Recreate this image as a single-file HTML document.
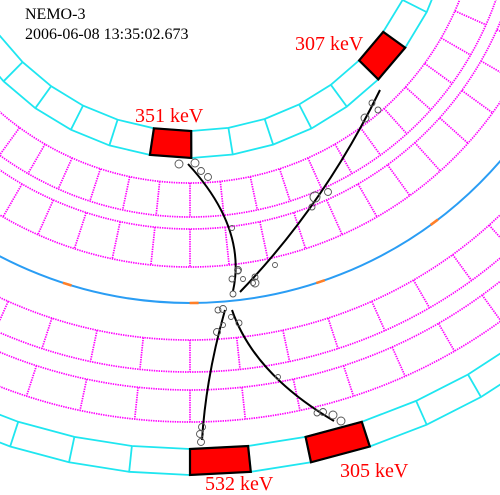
<!DOCTYPE html>
<html><head><meta charset="utf-8"><style>
html,body{margin:0;padding:0;background:#fff;width:500px;height:495px;overflow:hidden}
svg{display:block}
text{font-family:"Liberation Serif",serif}
</style></head><body>
<svg id="disp" width="500" height="495" viewBox="0 0 500 495" xmlns="http://www.w3.org/2000/svg">
<g id="geom"></g>
<g id="hits"></g>
<g id="tracks"></g>
<g id="cells"></g>
<text x="25" y="19" font-size="16" fill="#000">NEMO-3</text>
<text x="25" y="39" font-size="16" fill="#000">2006-06-08 13:35:02.673</text>
</svg>
<script>
// detector geometry (centre of curvature and radii)
const center = [190, -107];
const innerCaloR = [238, 265];
const trackerLayersR = [[290, 324], [336, 374], [447, 479], [497, 529]];
const foilR = [410];
const outerCaloR = [556, 582];
// calorimeter hits: wall, block index, energy label
const hitWall = ["inner", "inner", "outer", "outer"];
const hitIndex = [-1, 5, 0, 2];
const hitEnergy = [351, 307, 532, 305];
const labelPos = [[135, 122], [295, 50], [205, 490], [340, 477]];
// tracks: start, control, end
const trackStart = [[188, 164], [240, 292], [225, 310], [232, 310]];
const trackCtrl = [[247, 228], [324, 205], [206, 377], [254, 374]];
const trackEnd = [[233, 291], [380, 90], [202, 440], [334, 421]];
// geiger cell hits
const cellX = [179,195,201,208,232,238,232,233,255,253,372,378,365,315,328,312,275,255,223,231,239,217,223,278,323,333,341,317,202,200,201,238,243,218];
const cellY = [164,163,171,177,228,270,279,294,277,283,103,110,118,197,192,207,265,283,309,317,323,332,325,377,412,415,421,413,427,434,442,271,279,310];
const cellR = [4,4,3.5,3.5,2.5,3.5,3,3,3,2.5,3,3,4,5,3.5,3,2.5,4,3.5,2.5,3,3.5,2.5,2.5,3.5,4,4,3,3.5,3.5,3.5,3,2.5,3];

const NS = "http://www.w3.org/2000/svg";
const cx = center[0], cy = center[1];
function pt(r, a){ return [cx + r*Math.sin(a), cy + r*Math.cos(a)]; }
function mk(tag, attrs, parent){ const e = document.createElementNS(NS, tag); for (const k in attrs) e.setAttribute(k, attrs[k]); parent.appendChild(e); return e; }
const geom = document.getElementById('geom');
const IN_STEP = Math.PI/20, IN_PH = 0.005, OUT_STEP = Math.PI/30, TR_STEP = Math.PI/30;
const CYAN = "#1fe6f0";
const MAG = {stroke:'#ff00ff', 'stroke-width':1.7, 'stroke-dasharray':'1.4 1'};

// tracker layers (dotted magenta)
trackerLayersR.forEach((L, li) => {
  for (const r of L) {
    const c = mk('circle', Object.assign({cx, cy, r, fill:'none'}, MAG), geom);
    
    
  }
  for (let k = -20; k <= 20; k++) {
    const a = k*TR_STEP;
    const p1 = pt(L[0], a), p2 = pt(L[1], a);
    const l = mk('line', Object.assign({x1:p1[0], y1:p1[1], x2:p2[0], y2:p2[1]}, MAG), geom);
    
    
  }
});

// foil
const foil = mk('circle', {cx, cy, r:foilR[0], fill:'none', stroke:'#2a9df4', 'stroke-width':2}, geom);


for (let k = -6; k <= 6; k++) {
  const a = 0.01 + k*Math.PI/10, da = 0.011;
  const p1 = pt(foilR[0], a-da), p2 = pt(foilR[0], a+da);
  const m = mk('line', {x1:p1[0], y1:p1[1], x2:p2[0], y2:p2[1], stroke:'#ff7f27', 'stroke-width':2.6}, geom);
  
  
}

// calorimeter walls (polygonal)
function wall(R, step, ph, kmin, kmax, name){
  for (const r of R) {
    let d = '';
    for (let k = kmin; k <= kmax; k++) { const p = pt(r, ph + k*step); d += (d ? 'L' : 'M') + p[0].toFixed(1) + ',' + p[1].toFixed(1); }
    const e = mk('path', {d, fill:'none', stroke:CYAN, 'stroke-width':1.8}, geom);
    
    
  }
  for (let k = kmin; k <= kmax; k++) {
    const p1 = pt(R[0], ph + k*step), p2 = pt(R[1], ph + k*step);
    const e = mk('line', {x1:p1[0], y1:p1[1], x2:p2[0], y2:p2[1], stroke:CYAN, 'stroke-width':1.8}, geom);
    
    
  }
}
wall(innerCaloR, IN_STEP, IN_PH, -10, 10, 'inner-calorimeter');
wall(outerCaloR, OUT_STEP, 0, -15, 15, 'outer-calorimeter');

// calorimeter hits
const hits = document.getElementById('hits');
hitEnergy.forEach((E, i) => {
  const inner = hitWall[i] === 'inner';
  const R = inner ? innerCaloR : outerCaloR;
  const step = inner ? IN_STEP : OUT_STEP, ph = inner ? IN_PH : 0;
  const a0 = ph + hitIndex[i]*step, a1 = a0 + step;
  const q = [pt(R[0], a0), pt(R[0], a1), pt(R[1], a1), pt(R[1], a0)];
  const b = mk('polygon', {points: q.map(p => p[0].toFixed(1)+','+p[1].toFixed(1)).join(' '), fill:'#ff0000', stroke:'#000', 'stroke-width':2.2, 'stroke-linejoin':'miter'}, hits);
  
  
  const t = mk('text', {x: labelPos[i][0], y: labelPos[i][1], 'font-size':20, fill:'#ff0000'}, hits);
  t.textContent = E + ' keV';
  
  
});

// tracks
const tracks = document.getElementById('tracks');
trackStart.forEach((s, i) => {
  const c = trackCtrl[i], e = trackEnd[i];
  const p = mk('path', {d:`M${s[0]},${s[1]} Q${c[0]},${c[1]} ${e[0]},${e[1]}`, fill:'none', stroke:'#000', 'stroke-width':2}, tracks);
  
  
});

// geiger hits
const cells = document.getElementById('cells');
cellX.forEach((x, i) => {
  const c = mk('circle', {cx:x, cy:cellY[i], r:cellR[i], fill:'none', stroke:'#555', 'stroke-width':0.9}, cells);
  
  
});
</script>
</body></html>
